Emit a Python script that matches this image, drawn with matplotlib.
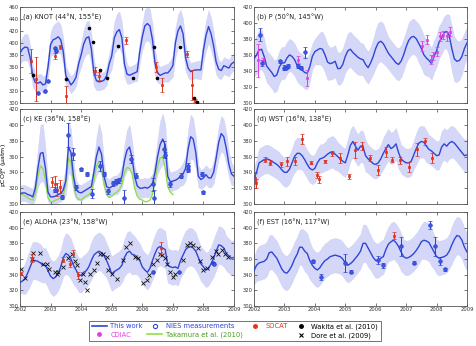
"""
Monthly surface-ocean pCO2 at six time-series stations, 2002-2009.
Model band (this work) compared with ship / mooring observations.
"""

import numpy as np
import matplotlib.pyplot as plt
from matplotlib.lines import Line2D

# Colours
BLUE = '#2f45d8'
BAND = '#d5d7f8'
BAND_EDGE = '#c4c6f2'
RED = '#e0321e'
MAGENTA = '#e040e0'
GREEN = '#8ee04a'
DOT_BLUE = '#3c5ae6'

# Monthly time axis, Jan 2002 .. Jan 2009
MONTHS = 2002 + np.arange(85) / 12.0

# ---------------- (a) KNOT ----------------
A_LINE = [383, 390, 393, 392, 375, 345, 334, 333, 335, 330, 332, 360,
          397, 405, 407, 410, 405, 385, 345, 338, 330, 335, 343, 365,
          380, 398, 408, 410, 390, 350, 337, 335, 336, 338, 345, 365,
          378, 408, 418, 422, 408, 365, 348, 346, 348, 350, 352, 385,
          410, 428, 432, 428, 405, 366, 350, 346, 348, 350, 350, 355,
          362, 400, 420, 428, 415, 375, 358, 352, 354, 355, 355, 355,
          388, 412, 427, 415, 395, 368, 356, 354, 362, 360, 358, 365, 368]
A_BAND = [18, 20, 22, 22, 20, 18, 15, 14, 14, 14, 15, 17,
          20, 24, 26, 26, 24, 22, 16, 14, 14, 14, 15, 17,
          20, 24, 27, 27, 25, 22, 16, 14, 14, 14, 15, 17,
          22, 26, 30, 30, 27, 22, 16, 14, 14, 14, 16, 18,
          22, 27, 28, 28, 26, 22, 16, 14, 14, 14, 15, 16,
          18, 24, 27, 27, 25, 22, 16, 14, 14, 14, 15, 16,
          20, 25, 27, 27, 24, 20, 15, 14, 14, 14, 14, 14, 14]
A_SOCAT_X = [2002.36, 2002.52, 2003.16, 2003.31, 2003.50, 2004.45, 2004.60,
             2005.47, 2006.45, 2006.63, 2007.45, 2007.62, 2007.73]
A_SOCAT_Y = [370, 340, 378, 393, 312, 353, 345, 404, 360, 330, 381, 330, 304]
A_SOCAT_E = [20, 36, 5, 3, 16, 7, 6, 6, 8, 12, 5, 25, 3]
A_NIES_X = [2002.58, 2002.82, 2002.93, 2003.14, 2003.18]
A_NIES_Y = [317, 320, 337, 391, 387]
A_WAKITA_X = [2002.44, 2003.50, 2004.27, 2004.40, 2004.62, 2004.84, 2005.22,
              2005.71, 2006.39, 2006.47, 2007.23, 2007.70, 2007.78]
A_WAKITA_Y = [346, 340, 424, 402, 354, 342, 394, 342, 393, 341, 393, 309, 302]

# ---------------- (b) Station P ----------------
B_LINE = [355, 360, 366, 367, 358, 346, 342, 338, 333, 335, 345, 350,
          350, 356, 360, 358, 354, 347, 343, 341, 338, 337, 345, 358,
          364, 366, 368, 367, 360, 351, 349, 350, 352, 343, 343, 348,
          358, 365, 367, 363, 360, 357, 355, 354, 348, 344, 350, 358,
          368, 375, 377, 374, 368, 362, 358, 354, 350, 348, 352, 360,
          370, 378, 382, 383, 380, 374, 368, 360, 356, 353, 349, 358,
          365, 376, 381, 388, 389, 384, 368, 355, 352, 353, 358, 368, 375]
B_BAND = [22, 24, 25, 25, 22, 20, 20, 20, 20, 20, 20, 20,
          20, 20, 20, 20, 20, 20, 20, 20, 20, 20, 18, 16,
          16, 18, 20, 22, 22, 22, 20, 20, 20, 20, 20, 20,
          20, 22, 22, 22, 22, 22, 20, 20, 20, 20, 20, 22,
          24, 25, 25, 25, 22, 20, 20, 20, 20, 20, 20, 20,
          20, 22, 22, 22, 22, 24, 24, 24, 22, 20, 20, 20,
          20, 20, 20, 20, 22, 26, 28, 28, 26, 24, 22, 20, 20]
B_NIES_X = [2002.20, 2002.27, 2002.85, 2002.98, 2003.05, 2003.12, 2003.45,
            2003.55, 2003.68]
B_NIES_Y = [385, 350, 352, 344, 344, 346, 346, 344, 363]
B_NIES_E = [8, 4, 2, 3, 2, 2, 3, 2, 7]
B_CDIAC_X = [2002.14, 2002.30, 2003.46, 2003.73, 2007.51, 2007.67, 2007.83,
             2007.87, 2008.00, 2008.11, 2008.22, 2008.33, 2008.44]
B_CDIAC_Y = [353, 352, 354, 331, 371, 379, 354, 358, 364, 383, 385, 383, 389]
B_CDIAC_E = [20, 4, 4, 10, 6, 6, 6, 5, 6, 6, 5, 6, 6]

# ---------------- (c) KE ----------------
C_LINE = [313, 314, 314, 312, 311, 309, 320, 345, 364, 365, 345, 315,
          309, 309, 310, 312, 313, 318, 330, 372, 365, 335, 318, 315,
          314, 316, 318, 320, 322, 340, 360, 372, 363, 335, 322, 320,
          322, 324, 324, 328, 335, 355, 368, 372, 358, 335, 323, 320,
          320, 321, 320, 322, 326, 340, 360, 375, 382, 375, 335, 328,
          329, 330, 332, 335, 338, 345, 370, 385, 382, 365, 335, 331,
          333, 337, 333, 333, 340, 358, 378, 389, 385, 370, 350, 338, 335]
C_BAND = [10, 10, 10, 10, 10, 10, 14, 24, 36, 36, 25, 12,
          10, 10, 10, 10, 10, 12, 18, 32, 30, 20, 12, 10,
          10, 10, 10, 10, 10, 14, 24, 30, 26, 16, 12, 11,
          12, 12, 12, 12, 14, 20, 26, 28, 22, 14, 12, 12,
          12, 12, 12, 12, 12, 16, 22, 30, 32, 26, 14, 12,
          12, 12, 12, 12, 14, 16, 24, 28, 26, 20, 14, 12,
          12, 12, 12, 12, 14, 16, 20, 22, 22, 20, 16, 14, 12]
C_TAKA = [312, 312, 310, 308, 306, 305, 312, 335, 348, 345, 330, 308,
          303, 303, 305, 306, 308, 312, 325, 358, 352, 325, 310, 306,
          305, 308, 310, 312, 315, 330, 348, 353, 345, 325, 312, 308,
          310, 313, 315, 318, 325, 340, 346, 345, 338, 320, 310, 306,
          305, 303, 303, 305, 312, 330, 348, 358, 360, 345, 322, 315, 312]
C_SOCAT_X = [2003.05, 2003.13, 2003.22, 2003.30]
C_SOCAT_Y = [328, 325, 318, 322]
C_SOCAT_E = [6, 10, 8, 8]
C_NIES_X = [2003.14, 2003.36, 2003.58, 2003.72, 2003.83, 2004.00, 2004.18,
            2004.34, 2004.62, 2004.76, 2004.89, 2005.05, 2005.15, 2005.24,
            2005.40, 2005.63, 2005.81, 2006.35, 2006.39, 2006.72, 2006.73,
            2006.90, 2007.26, 2007.50, 2007.51, 2007.94, 2007.97]
C_NIES_Y = [318, 309, 387, 363, 321, 344, 338, 313, 348, 338, 316, 326, 329,
            330, 308, 357, 336, 325, 308, 369, 362, 325, 336, 348, 343, 338, 315]
C_NIES_E = [3, 3, 15, 8, 3, 2, 3, 6, 6, 3, 3, 3, 3, 3, 10, 5, 3, 8, 10, 10,
            4, 3, 3, 4, 3, 3, 2]

# ---------------- (d) WST ----------------
D_LINE = [332, 340, 352, 354, 356, 357, 356, 354, 352, 350, 347, 343,
          340, 340, 344, 352, 360, 364, 364, 361, 356, 350, 345, 343,
          345, 352, 357, 358, 360, 363, 365, 366, 363, 360, 357, 354,
          352, 362, 374, 379, 373, 368, 373, 372, 361, 357, 354, 351,
          350, 352, 357, 364, 370, 375, 370, 372, 376, 365, 357, 354,
          352, 352, 354, 362, 370, 377, 379, 378, 373, 369, 367, 364,
          361, 362, 372, 376, 373, 377, 379, 377, 373, 369, 365, 361, 362]
D_BAND = [14, 16, 18, 18, 18, 18, 18, 18, 18, 18, 18, 18,
          18, 18, 18, 18, 20, 20, 20, 18, 18, 18, 18, 18,
          18, 18, 18, 18, 18, 20, 20, 20, 20, 18, 18, 18,
          18, 20, 20, 20, 20, 20, 20, 20, 20, 18, 18, 18,
          18, 18, 18, 20, 20, 20, 20, 20, 20, 20, 18, 18,
          18, 18, 18, 18, 20, 20, 20, 20, 20, 18, 18, 18,
          18, 18, 20, 20, 20, 20, 20, 20, 20, 20, 20, 20, 20]
D_SOCAT_X = [2002.03, 2002.07, 2002.36, 2002.53, 2002.89, 2003.08, 2003.35,
             2003.57, 2003.87, 2004.06, 2004.15, 2004.34, 2004.56, 2004.83,
             2005.11, 2005.33, 2005.55, 2005.82, 2006.09, 2006.35, 2006.53,
             2006.81, 2007.08, 2007.36, 2007.61, 2007.85]
D_SOCAT_Y = [333, 326, 356, 352, 350, 354, 354, 382, 352, 337, 331, 354, 364,
             358, 335, 368, 373, 358, 343, 366, 356, 355, 347, 369, 379, 358]
D_SOCAT_E = [6, 6, 3, 3, 3, 6, 5, 6, 2, 4, 5, 2, 3, 6, 3, 10, 5, 4, 6, 6,
             3, 4, 6, 8, 5, 6]

# ---------------- (e) ALOHA ----------------
E_LINE = [330, 332, 335, 342, 350, 358, 358, 357, 355, 352, 352, 345,
          338, 335, 337, 342, 350, 362, 367, 365, 360, 352, 346, 340,
          339, 343, 345, 350, 358, 365, 368, 370, 368, 364, 358, 350,
          341, 344, 346, 348, 352, 362, 368, 370, 366, 365, 362, 358,
          350, 346, 343, 348, 358, 367, 374, 376, 374, 372, 352, 350,
          349, 350, 348, 358, 365, 372, 375, 376, 374, 370, 362, 354,
          350, 346, 348, 354, 361, 370, 378, 377, 374, 367, 364, 361, 362]
E_BAND = [14, 16, 20, 22, 24, 24, 24, 24, 24, 22, 22, 22,
          22, 22, 22, 22, 22, 24, 26, 26, 26, 24, 22, 22,
          22, 22, 22, 22, 24, 24, 24, 24, 24, 24, 22, 22,
          22, 22, 22, 22, 22, 24, 26, 26, 26, 24, 22, 22,
          22, 22, 22, 22, 24, 24, 24, 24, 24, 24, 22, 22,
          22, 22, 22, 22, 24, 24, 24, 24, 24, 24, 22, 22,
          22, 22, 22, 22, 24, 24, 24, 24, 24, 22, 22, 22, 22]
E_SOCAT_X = [2002.02, 2002.38, 2003.42, 2003.64, 2003.72, 2003.91, 2006.61]
E_SOCAT_Y = [341, 361, 359, 354, 367, 339, 374]
E_SOCAT_E = [2, 5, 3, 4, 4, 5, 8]
E_NIES_X = [2006.36, 2007.19, 2008.32, 2008.34]
E_NIES_Y = [343, 343, 355, 353]
E_DORE_X = [2002.02, 2002.16, 2002.38, 2002.44, 2002.65, 2002.76, 2002.87,
            2002.96, 2003.15, 2003.20, 2003.25, 2003.42, 2003.58, 2003.69,
            2003.80, 2003.88, 2003.96, 2004.05, 2004.13, 2004.20, 2004.29,
            2004.42, 2004.51, 2004.62, 2004.73, 2004.84, 2004.89, 2005.00,
            2005.16, 2005.36, 2005.47, 2005.60, 2005.76, 2005.87, 2006.03,
            2006.14, 2006.23, 2006.36, 2006.47, 2006.58, 2006.63, 2006.74,
            2006.80, 2006.91, 2007.02, 2007.07, 2007.32, 2007.45, 2007.56,
            2007.67, 2007.83, 2007.89, 2008.00, 2008.11, 2008.27, 2008.41,
            2008.49, 2008.60, 2008.71, 2008.82]
E_DORE_Y = [347, 336, 360, 368, 368, 354, 353, 347, 343, 341, 343, 350, 361,
            367, 357, 352, 333, 341, 330, 320, 341, 346, 355, 367, 367, 363,
            346, 341, 335, 359, 375, 380, 363, 361, 329, 333, 339, 354, 359,
            367, 365, 361, 354, 344, 337, 341, 359, 378, 380, 378, 374, 357,
            346, 348, 363, 370, 367, 372, 367, 363]

# ---------------- (f) EST ----------------
F_LINE = [345, 352, 355, 356, 357, 360, 368, 369, 365, 361, 354, 347,
          343, 342, 346, 352, 360, 366, 375, 375, 370, 367, 358, 352,
          348, 346, 349, 354, 358, 360, 363, 364, 365, 364, 363, 360,
          355, 352, 354, 357, 361, 365, 370, 380, 380, 374, 368, 362,
          358, 358, 361, 363, 372, 379, 382, 384, 381, 376, 369, 363,
          361, 362, 364, 367, 371, 376, 382, 384, 383, 381, 375, 369,
          363, 361, 362, 363, 365, 370, 378, 385, 390, 389, 384, 375, 369]
F_BAND = [18, 20, 22, 22, 22, 22, 22, 22, 22, 22, 22, 22,
          22, 22, 22, 22, 22, 22, 22, 24, 26, 26, 24, 22,
          22, 22, 22, 22, 22, 22, 22, 22, 22, 22, 22, 22,
          22, 22, 22, 22, 22, 22, 22, 24, 24, 24, 22, 22,
          22, 22, 22, 22, 22, 22, 24, 24, 24, 24, 24, 22,
          22, 22, 22, 22, 22, 22, 22, 24, 24, 24, 24, 22,
          22, 22, 22, 22, 22, 22, 24, 24, 24, 24, 24, 24, 24]
F_NIES_X = [2003.95, 2004.20, 2005.00, 2005.18, 2006.07, 2006.24, 2006.84,
            2007.25, 2007.80, 2007.96, 2008.12, 2008.29]
F_NIES_Y = [357, 337, 355, 344, 359, 352, 376, 355, 403, 376, 357, 347]
F_NIES_E = [2, 4, 12, 2, 5, 3, 12, 2, 5, 12, 5, 2]
F_SOCAT_X = [2006.61]
F_SOCAT_Y = [390]
F_SOCAT_E = [4]

YEARS = [2002, 2003, 2004, 2005, 2006, 2007, 2008, 2009]


def draw_model(ax, line, band):
    """Model line with its uncertainty band"""
    line = np.array(line, dtype=float)
    band = np.array(band, dtype=float)
    ax.fill_between(MONTHS, line - band, line + band, facecolor=BAND,
                    edgecolor=BAND_EDGE, linewidth=0.2, zorder=1)
    ax.plot(MONTHS, line, color=BLUE, lw=1.0, zorder=3)


def obs(ax, x, y, err, color, marker='o', ms=2.6, mfc=None):
    ax.errorbar(x, y, yerr=err, fmt=marker, color=color, ms=ms,
                mfc=mfc if mfc else color, mec=color, mew=0.5,
                elinewidth=0.7, capsize=1.3, capthick=0.6, zorder=5)


def style_axes(ax, ylim, label, show_x):
    ax.set_xlim(2002, 2009)
    ax.set_ylim(*ylim)
    ax.set_xticks(YEARS)
    ax.set_yticks(np.arange(ylim[0], ylim[1] + 1, 20))
    ax.tick_params(direction='in', length=2, width=0.5, labelsize=3.8,
                   top=True, right=True, pad=0.8, colors='#444444',
                   labelcolor='#333333')
    if not show_x:
        ax.set_xticklabels([])
    for s in ax.spines.values():
        s.set_linewidth(0.6)
        s.set_color('#555555')
    ax.text(0.015, 0.93, label, transform=ax.transAxes, fontsize=4.8,
            va='top', ha='left', color='#222222', zorder=6)


fig = plt.figure(figsize=(4.77, 3.46), dpi=100)
W, H = 477.0, 346.0


def make_ax(x0, x1, y0, y1):
    return fig.add_axes([x0 / W, 1 - y1 / H, (x1 - x0) / W, (y1 - y0) / H])


LX = (20, 234)
RX = (254, 467)
ROWS = [(6.7, 103), (109, 204), (212, 306)]

ax_a = make_ax(LX[0], LX[1], *ROWS[0])
ax_b = make_ax(RX[0], RX[1], *ROWS[0])
ax_c = make_ax(LX[0], LX[1], *ROWS[1])
ax_d = make_ax(RX[0], RX[1], *ROWS[1])
ax_e = make_ax(LX[0], LX[1], *ROWS[2])
ax_f = make_ax(RX[0], RX[1], *ROWS[2])

# (a)
draw_model(ax_a, A_LINE, A_BAND)
obs(ax_a, A_SOCAT_X, A_SOCAT_Y, A_SOCAT_E, RED, marker='s', ms=1.8)
ax_a.plot(A_NIES_X, A_NIES_Y, 'o', color=DOT_BLUE, ms=2.6, mec='#2030c0',
          mew=0.5, zorder=5)
ax_a.plot(A_WAKITA_X, A_WAKITA_Y, 'o', color='black', ms=1.6, zorder=6)
style_axes(ax_a, (300, 460), '(a) KNOT (44°N, 155°E)', False)

# (b)
draw_model(ax_b, B_LINE, B_BAND)
obs(ax_b, B_CDIAC_X, B_CDIAC_Y, B_CDIAC_E, MAGENTA, marker='s', ms=1.5)
obs(ax_b, B_NIES_X, B_NIES_Y, B_NIES_E, '#2a40d0', mfc=DOT_BLUE)
style_axes(ax_b, (300, 420), '(b) P (50°N, 145°W)', False)

# (c)
draw_model(ax_c, C_LINE, C_BAND)
ax_c.plot(MONTHS[:len(C_TAKA)], C_TAKA, color=GREEN, lw=1.0, zorder=2)
obs(ax_c, C_SOCAT_X, C_SOCAT_Y, C_SOCAT_E, RED, marker='s', ms=1.5)
obs(ax_c, C_NIES_X, C_NIES_Y, C_NIES_E, '#2a40d0', mfc=DOT_BLUE)
style_axes(ax_c, (300, 420), '(c) KE (36°N, 158°E)', False)

# (d)
draw_model(ax_d, D_LINE, D_BAND)
obs(ax_d, D_SOCAT_X, D_SOCAT_Y, D_SOCAT_E, RED, marker='s', ms=1.8)
style_axes(ax_d, (300, 420), '(d) WST (16°N, 138°E)', False)

# (e)
draw_model(ax_e, E_LINE, E_BAND)
ax_e.plot(E_DORE_X, E_DORE_Y, 'x', color='#111111', ms=3, mew=0.6, zorder=5)
obs(ax_e, E_SOCAT_X, E_SOCAT_Y, E_SOCAT_E, RED, marker='s', ms=1.8)
ax_e.plot(E_NIES_X, E_NIES_Y, 'o', color=DOT_BLUE, ms=2.6, mec='#2030c0',
          mew=0.5, zorder=5)
style_axes(ax_e, (300, 420), '(e) ALOHA (23°N, 158°W)', True)

# (f)
draw_model(ax_f, F_LINE, F_BAND)
obs(ax_f, F_NIES_X, F_NIES_Y, F_NIES_E, '#2a40d0', mfc=DOT_BLUE)
obs(ax_f, F_SOCAT_X, F_SOCAT_Y, F_SOCAT_E, RED, marker='s', ms=1.8)
style_axes(ax_f, (300, 420), '(f) EST (16°N, 117°W)', True)

fig.text(3.9 / W, 1 - 165 / H, 'pCO$_2^{sw}$ (µatm)', rotation=90,
         fontsize=4.5, va='center', ha='center')

# Legend (column-major, 4 columns x 2 rows)
handles = [
    Line2D([], [], color=BLUE, lw=1.2),
    Line2D([], [], ls='', marker='o', color=MAGENTA, ms=2.5),
    Line2D([], [], ls='', marker='o', mfc='white', mec=BLUE, ms=3, mew=0.8),
    Line2D([], [], color=GREEN, lw=1.2),
    Line2D([], [], ls='', marker='o', color=RED, ms=2.5),
    Line2D([], [], ls='', marker=''),
    Line2D([], [], ls='', marker='o', color='black', ms=2.5),
    Line2D([], [], ls='', marker='x', color='black', ms=3, mew=0.8),
]
labels = ['This work', 'CDIAC', 'NIES measurements', 'Takamura et al. (2010)',
          'SOCAT', '', 'Wakita et al. (2010)', 'Dore et al. (2009)']
label_colors = [BLUE, MAGENTA, BLUE, '#4a9a20', RED, 'black', 'black', 'black']

leg = fig.legend(handles, labels, ncol=4, loc='center',
                 bbox_to_anchor=(235 / W, 1 - 331 / H), fontsize=4.9,
                 frameon=True, fancybox=False, edgecolor='#333333',
                 handlelength=2.2, handletextpad=0.5, columnspacing=0.7,
                 borderpad=0.35, labelspacing=0.3)
leg.get_frame().set_linewidth(0.6)
for txt, c in zip(leg.get_texts(), label_colors):
    txt.set_color(c)

fig.savefig('out.png', dpi=100)
